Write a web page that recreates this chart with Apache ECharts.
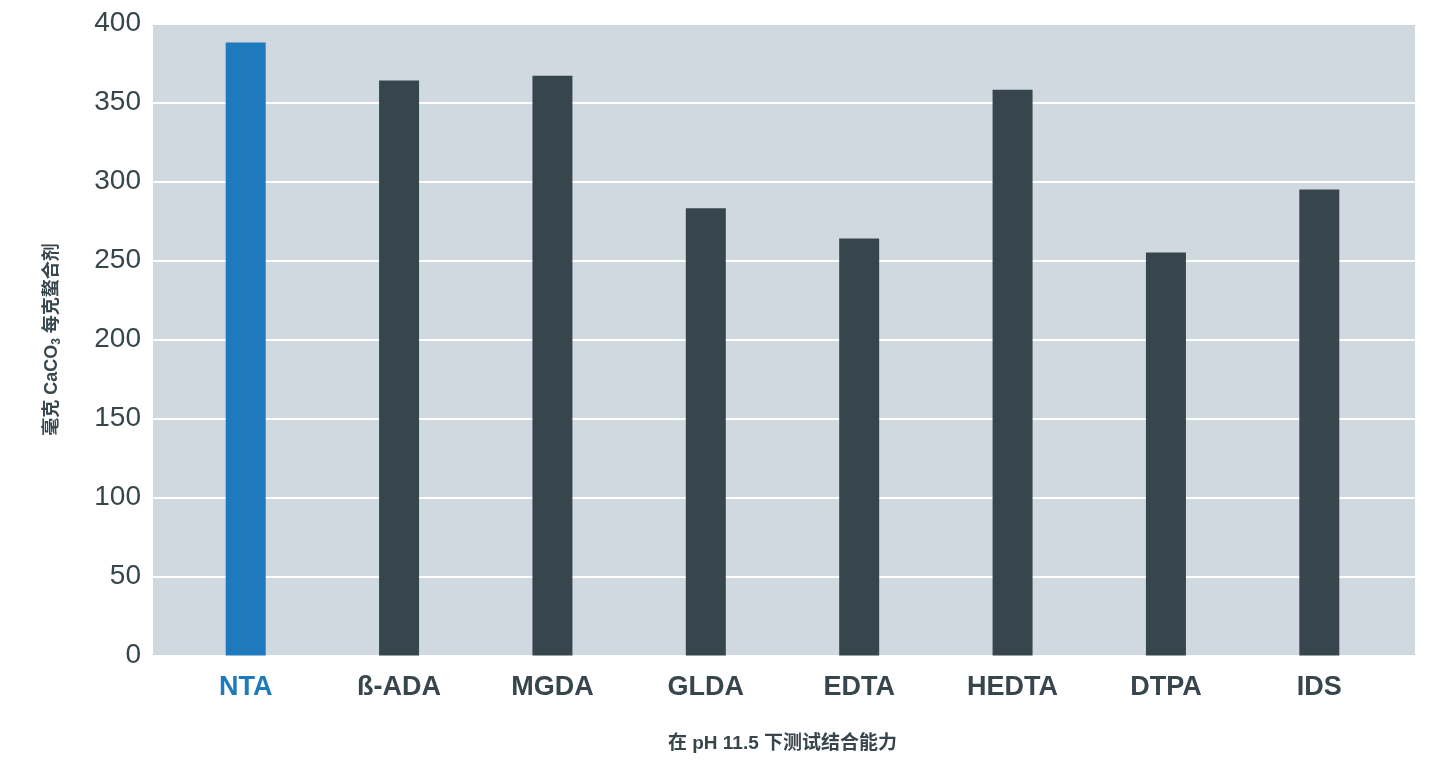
<!DOCTYPE html>
<html>
<head>
<meta charset="utf-8">
<script src="https://cdn.jsdelivr.net/npm/echarts@6/dist/echarts.min.js"></script>
<style>html,body{margin:0;padding:0;background:#fff;}#c{width:1432px;height:760px;}</style>
</head>
<body>
<div id="c"></div>
<script>
const categories = ['NTA', 'ß-ADA', 'MGDA', 'GLDA', 'EDTA', 'HEDTA', 'DTPA', 'IDS'];
const values = [388, 364, 367, 283, 264, 358, 255, 295];
const highlight = 'NTA';
const yTicks = { min: 0, max: 400, interval: 50 };
const xTitle = '在 pH 11.5 下测试结合能力';

const BLUE = '#1f7abd', DARK = '#37454d';
const latin = '"Liberation Sans", Arial, "Noto Sans CJK SC", sans-serif';

const chart = echarts.init(document.getElementById('c'));
chart.setOption({
  animation: false,
  grid: [
    { left: 153, right: 17, top: 23.5, bottom: 104.5, show: true, backgroundColor: '#d1d9e0', borderWidth: 0 },
    { left: 169, right: 36, top: 23.5, bottom: 104.5 }
  ],
  xAxis: [
    { gridIndex: 0, type: 'category', data: categories, show: false },
    { gridIndex: 1, type: 'category', data: categories,
      axisLine: { show: false }, axisTick: { show: false },
      axisLabel: { margin: 19, fontFamily: latin, fontSize: 27, fontWeight: 'bold',
        color: (v) => v === highlight ? BLUE : DARK },
      name: xTitle, nameLocation: 'middle', nameGap: 79,
      nameTextStyle: { fontFamily: latin, fontSize: 19, fontWeight: 'bold', color: DARK }
    }
  ],
  yAxis: [
    { gridIndex: 0, type: 'value', min: yTicks.min, max: yTicks.max, interval: yTicks.interval,
      axisLine: { show: false }, axisTick: { show: false },
      axisLabel: { margin: 12, fontFamily: latin, fontSize: 28, color: DARK },
      splitLine: { show: true, lineStyle: { color: '#ffffff', width: 2 } },
      name: '{a|毫克 CaCO}{s|3}{a| 每克螯合剂}', nameLocation: 'middle', nameGap: 90, nameRotate: 90,
      nameTextStyle: { rich: {
        a: { fontFamily: latin, fontSize: 18, fontWeight: 'bold', color: DARK, lineHeight: 22 },
        s: { fontFamily: latin, fontSize: 12, fontWeight: 'bold', color: DARK, lineHeight: 22, verticalAlign: 'bottom', padding: [7, 0, 0, 0] }
      } }
    },
    { gridIndex: 1, type: 'value', min: yTicks.min, max: yTicks.max, interval: yTicks.interval, show: false, splitLine: { show: false } }
  ],
  series: [{
    type: 'bar', xAxisIndex: 1, yAxisIndex: 1, barWidth: 40,
    data: values.map((v, i) => ({ value: v, itemStyle: { color: categories[i] === highlight ? BLUE : DARK } }))
  }]
});
</script>
</body>
</html>
